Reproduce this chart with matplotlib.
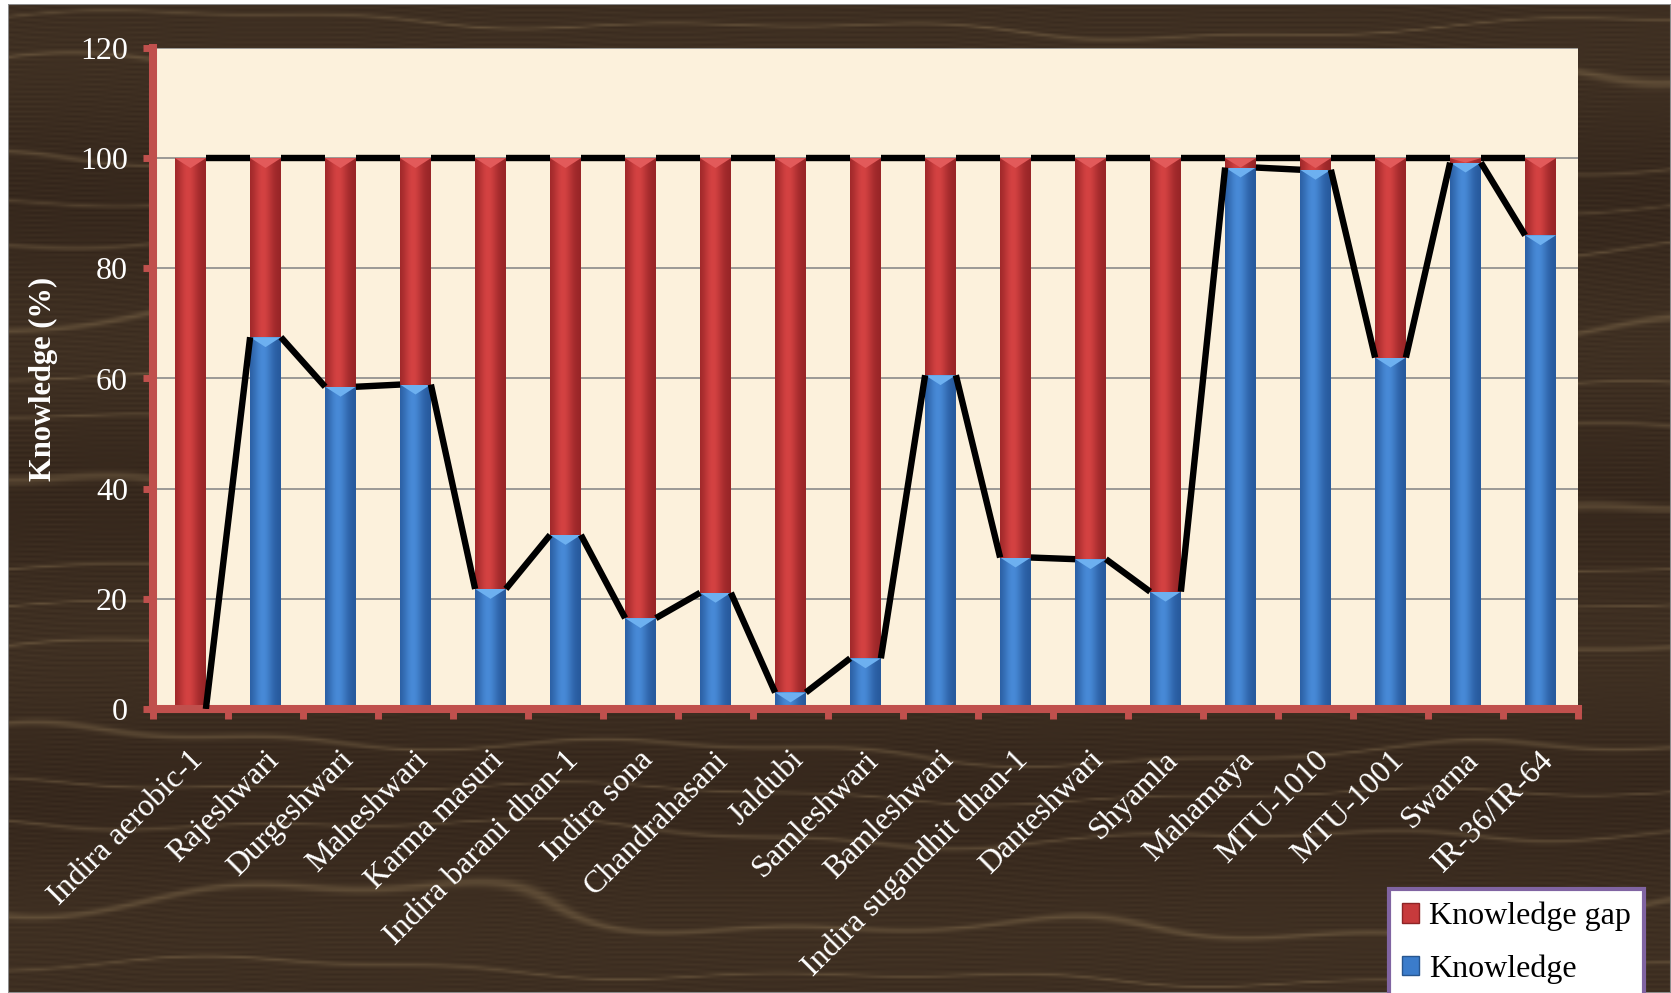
import matplotlib
matplotlib.use("Agg")
import matplotlib.pyplot as plt
import numpy as np
from matplotlib.patches import Patch, Polygon, Rectangle
from matplotlib.transforms import ScaledTranslation, blended_transform_factory

plt.rcParams["font.family"] = ["Liberation Serif", "DejaVu Serif"]

# ---- data -----------------------------------------------------------------
varieties = [
    "Indira aerobic-1", "Rajeshwari", "Durgeshwari", "Maheshwari",
    "Karma masuri", "Indira barani dhan-1", "Indira sona", "Chandrahasani",
    "Jaldubi", "Samleshwari", "Bamleshwari", "Indira sugandhit dhan-1",
    "Danteshwari", "Shyamla", "Mahamaya", "MTU-1010", "MTU-1001", "Swarna",
    "IR-36/IR-64",
]
knowledge = [0.0, 67.5, 58.5, 58.9, 21.8, 31.6, 16.5, 21.1, 3.0, 9.2,
             60.6, 27.5, 27.2, 21.3, 98.3, 97.9, 63.8, 99.2, 86.0]
knowledge_gap = [100.0, 32.5, 41.5, 41.1, 78.2, 68.4, 83.5, 78.9, 97.0, 90.8,
                 39.4, 72.5, 72.8, 78.7, 1.7, 2.1, 36.2, 0.8, 14.0]
y_ticks = [0, 20, 40, 60, 80, 100, 120]

RED = "#C73A3C"
BLUE = "#3B7CCB"
AXIS_RED = "#C0504D"
BAR_W = 0.41

W_PX, H_PX = 1671, 993
fig = plt.figure(figsize=(W_PX / 100, H_PX / 100), dpi=100)
fig.patch.set_facecolor("white")

# ---- wood-grain backdrop ---------------------------------------------------
bg = fig.add_axes([8 / W_PX, 0, 1 - 8 / W_PX, 1 - 4 / H_PX])
gy = np.linspace(0, 1, 400)[:, None]
gx = np.linspace(0, 1, 600)[None, :]
warp = (0.012 * np.sin(2 * np.pi * (gx * 0.9 + 0.15))
        + 0.008 * np.sin(2 * np.pi * (gx * 2.3 + gy * 3.0))
        + 0.004 * np.sin(2 * np.pi * (gx * 5.7 + gy * 1.7)))
frac = ((gy + warp) * 17 + 0.3 * np.sin(2 * np.pi * gy * 5)) % 1.0
streak = np.exp(-((frac - 0.5) / 0.035) ** 2)
fine = 0.5 + 0.5 * np.sin(2 * np.pi * (gy + 0.6 * warp) * 210)
band = 0.5 + 0.5 * np.sin(2 * np.pi * (gy * 3.3 + 0.1))
shade = 0.38 * streak + 0.12 * fine + 0.10 * band
dark = np.array([50, 36, 26]) / 255
light = np.array([132, 110, 78]) / 255
wood = dark + shade[..., None] * (light - dark)
bg.imshow(np.clip(wood, 0, 1), aspect="auto", interpolation="bilinear",
          extent=[0, 1, 0, 1])
bg.set_xlim(0, 1)
bg.set_ylim(0, 1)
bg.axis("off")
bg.add_patch(Rectangle((0, 0), 1, 1, transform=bg.transAxes, fill=False,
                       edgecolor="#8C8C8C", lw=1.5))

# ---- main chart ------------------------------------------------------------
ax = fig.add_axes([153 / W_PX, 1 - 709 / H_PX,
                   (1578 - 153) / W_PX, (709 - 48) / H_PX])
ax.set_facecolor("#FCF1DC")
x = np.arange(len(varieties))

bars_k = ax.bar(x, knowledge, BAR_W, color=BLUE, zorder=2, linewidth=0)
bars_g = ax.bar(x, knowledge_gap, BAR_W, bottom=knowledge, color=RED,
                zorder=2, linewidth=0)


def shaded(edge, centre, n=64):
    t = np.linspace(0, 1, n)
    w = np.exp(-((t - 0.42) / 0.32) ** 2)
    e = np.array(edge) / 255
    c = np.array(centre) / 255
    return (e + w[:, None] * (c - e))[None, :, :]


grad_blue = shaded((38, 88, 155), (72, 138, 215))
grad_red = shaded((150, 36, 38), (212, 66, 66))

for patches, grad, bevel in ((bars_k, grad_blue, "#6DB0F0"),
                             (bars_g, grad_red, "#E25A5A")):
    for p in patches:
        h = p.get_height()
        if h <= 0:
            continue
        x0, y0 = p.get_x(), p.get_y()
        x1, y1 = x0 + p.get_width(), y0 + h
        im = ax.imshow(grad, extent=[x0, x1, y0, y1], aspect="auto",
                       interpolation="bilinear", zorder=2.1)
        im.set_clip_path(p)
        d = min(1.8, h)
        tri = Polygon([(x0, y1), (x1, y1), ((x0 + x1) / 2, y1 - d)],
                      closed=True, facecolor=bevel, edgecolor="none",
                      zorder=2.2)
        ax.add_patch(tri)
        tri.set_clip_path(p)

# series lines joining neighbouring bar tops
totals = [k + g for k, g in zip(knowledge, knowledge_gap)]
for series in (knowledge, totals):
    for i in range(len(x) - 1):
        ax.plot([x[i] + BAR_W / 2, x[i + 1] - BAR_W / 2],
                [series[i], series[i + 1]], color="black", lw=4.6,
                solid_capstyle="butt", zorder=3)

ax.set_xlim(-0.5, len(x) - 0.5)
ax.set_ylim(0, 120)
ax.set_yticks(y_ticks)
ax.yaxis.grid(True, color="#8A8A8A", lw=1.2)
ax.set_axisbelow(True)

for side in ("top", "right"):
    ax.spines[side].set_visible(False)
for side in ("left", "bottom"):
    ax.spines[side].set_color(AXIS_RED)
    ax.spines[side].set_linewidth(5.8)

ax.set_xticks(np.arange(-0.5, len(x), 1.0))
ax.tick_params(axis="x", labelbottom=False, color=AXIS_RED, length=7,
               width=5, direction="out")
ax.tick_params(axis="y", colors="white", labelsize=23, length=7, width=5,
               direction="out", pad=11)
ax.tick_params(axis="y", color=AXIS_RED)

# rotated category labels
lab_tf = blended_transform_factory(ax.transData, ax.transAxes) + \
    ScaledTranslation(0.14, -0.52, fig.dpi_scale_trans)
for xi, name in zip(x, varieties):
    ax.text(xi, 0, name, transform=lab_tf, rotation=45,
            rotation_mode="anchor", ha="right", va="baseline",
            fontsize=23, color="white")

fig.text(43 / W_PX, 1 - 379 / H_PX, "Knowledge (%)", rotation=90,
         ha="center", va="center", fontsize=22, fontweight="bold",
         color="white")

handles = [Patch(facecolor=RED, edgecolor="#8E2426"),
           Patch(facecolor=BLUE, edgecolor="#27568F")]
leg = fig.legend(handles, ["Knowledge gap", "Knowledge"], loc="upper left",
                 bbox_to_anchor=(1389 / W_PX, 1 - 889 / H_PX), fontsize=23,
                 frameon=True, fancybox=False, framealpha=1,
                 facecolor="white", edgecolor="#8064A2",
                 handlelength=0.55, handleheight=0.55, handletextpad=0.3,
                 labelspacing=0.72, borderpad=0.4, borderaxespad=0)
leg.get_frame().set_linewidth(3)

fig.savefig("out.png", dpi=100, facecolor=fig.get_facecolor())
